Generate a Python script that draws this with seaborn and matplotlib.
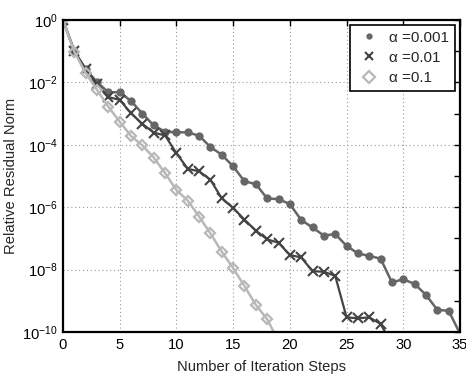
import numpy as np
import pandas as pd
import matplotlib
matplotlib.use("Agg")
import matplotlib.pyplot as plt
import seaborn as sns
from matplotlib.lines import Line2D
from matplotlib.ticker import FixedLocator, NullFormatter, LogFormatterSciNotation

sns.set_style("white")
plt.rcParams['font.family'] = ['Liberation Sans', 'DejaVu Sans']
plt.rcParams['mathtext.fontset'] = 'custom'
plt.rcParams['mathtext.rm'] = 'Liberation Sans'
plt.rcParams['mathtext.it'] = 'Liberation Sans'
plt.rcParams['mathtext.default'] = 'regular'

# ---- data (log10 of relative residual norm) ----
steps_a = list(range(0, 36))
log_res_a = [0.0, -1.0, -1.58, -1.99, -2.32, -2.31, -2.60, -3.00, -3.38, -3.58,
             -3.60, -3.60, -3.71, -4.07, -4.32, -4.69, -5.17, -5.26, -5.72, -5.74,
             -5.90, -6.41, -6.65, -6.91, -6.86, -7.24, -7.48, -7.56, -7.65, -8.41,
             -8.31, -8.46, -8.81, -9.29, -9.32, -10.05]
steps_b = list(range(0, 30))
log_res_b = [0.0, -1.0, -1.57, -2.05, -2.47, -2.56, -2.99, -3.33, -3.61, -3.70,
             -4.27, -4.77, -4.85, -5.12, -5.72, -6.02, -6.40, -6.75, -7.03, -7.14,
             -7.53, -7.61, -8.05, -8.07, -8.20, -9.53, -9.56, -9.53, -9.74, -10.4]
steps_c = list(range(0, 20))
log_res_c = [0.0, -1.02, -1.70, -2.24, -2.78, -3.26, -3.72, -4.02, -4.41, -4.91,
             -5.45, -5.79, -6.30, -6.84, -7.43, -7.95, -8.53, -9.13, -9.59, -10.3]
labels = ["\u03b1 =0.001", "\u03b1 =0.01", "\u03b1 =0.1"]

FS = 10.6

fig = plt.figure(figsize=(4.66, 3.76), dpi=100)
ax = fig.add_axes([0.1352, 0.1170, 0.8519, 0.8298])

c_a, c_b, c_c = "#666666", "#444444", "#b8b8b8"

df_a = pd.DataFrame({"x": steps_a, "y": 10.0 ** np.array(log_res_a)})
df_b = pd.DataFrame({"x": steps_b, "y": 10.0 ** np.array(log_res_b)})
df_c = pd.DataFrame({"x": steps_c, "y": 10.0 ** np.array(log_res_c)})

sns.lineplot(data=df_a, x="x", y="y", ax=ax, color=c_a, lw=1.8, marker="o",
             markersize=5.2, markeredgecolor=c_a, markerfacecolor=c_a)
sns.lineplot(data=df_b, x="x", y="y", ax=ax, color=c_b, lw=1.6, marker="x",
             markersize=6.5, markeredgewidth=1.5, markeredgecolor=c_b)
sns.lineplot(data=df_c, x="x", y="y", ax=ax, color=c_c, lw=1.8, marker="D",
             markersize=4.8, markeredgewidth=1.6, markeredgecolor=c_c,
             markerfacecolor="none")

ax.set_yscale("log")
ax.set_xlim(0, 35)
ax.set_ylim(1e-10, 1)
ax.set_xticks([0, 5, 10, 15, 20, 25, 30, 35])
ax.yaxis.set_major_locator(FixedLocator([1e-10, 1e-8, 1e-6, 1e-4, 1e-2, 1e0]))
ax.yaxis.set_minor_locator(FixedLocator([1e-9, 1e-7, 1e-5, 1e-3, 1e-1]))
ax.yaxis.set_minor_formatter(NullFormatter())
ax.yaxis.set_major_formatter(LogFormatterSciNotation())

ax.grid(True, which="major", color="#9a9a9a", linestyle=(0, (1, 2.5)), lw=0.8)
ax.tick_params(axis="both", which="both", direction="in", top=True, right=True,
               length=4, width=1.0, labelsize=FS, colors="black", pad=4)
for s in ax.spines.values():
    s.set_visible(True)
    s.set_color("black")
    s.set_linewidth(1.6)

ax.set_xlabel("Number of Iteration Steps", fontsize=FS, labelpad=6)
ax.set_ylabel("Relative Residual Norm", fontsize=FS, labelpad=3)

handles = [
    Line2D([], [], ls="none", marker="o", markersize=3.5, color=c_a),
    Line2D([], [], ls="none", marker="x", markersize=6, markeredgewidth=1.5, color=c_b),
    Line2D([], [], ls="none", marker="D", markersize=6, markeredgewidth=1.6,
           markerfacecolor="none", color=c_c),
]
leg = ax.legend(handles, labels, loc="upper right", fontsize=11, frameon=True,
                fancybox=False, edgecolor="black", framealpha=1, borderpad=0.4,
                handletextpad=0.4, labelspacing=0.4, borderaxespad=0.3,
                handlelength=1.8)
leg.get_frame().set_linewidth(1.2)

fig.savefig("out.png", dpi=100, facecolor="white")
